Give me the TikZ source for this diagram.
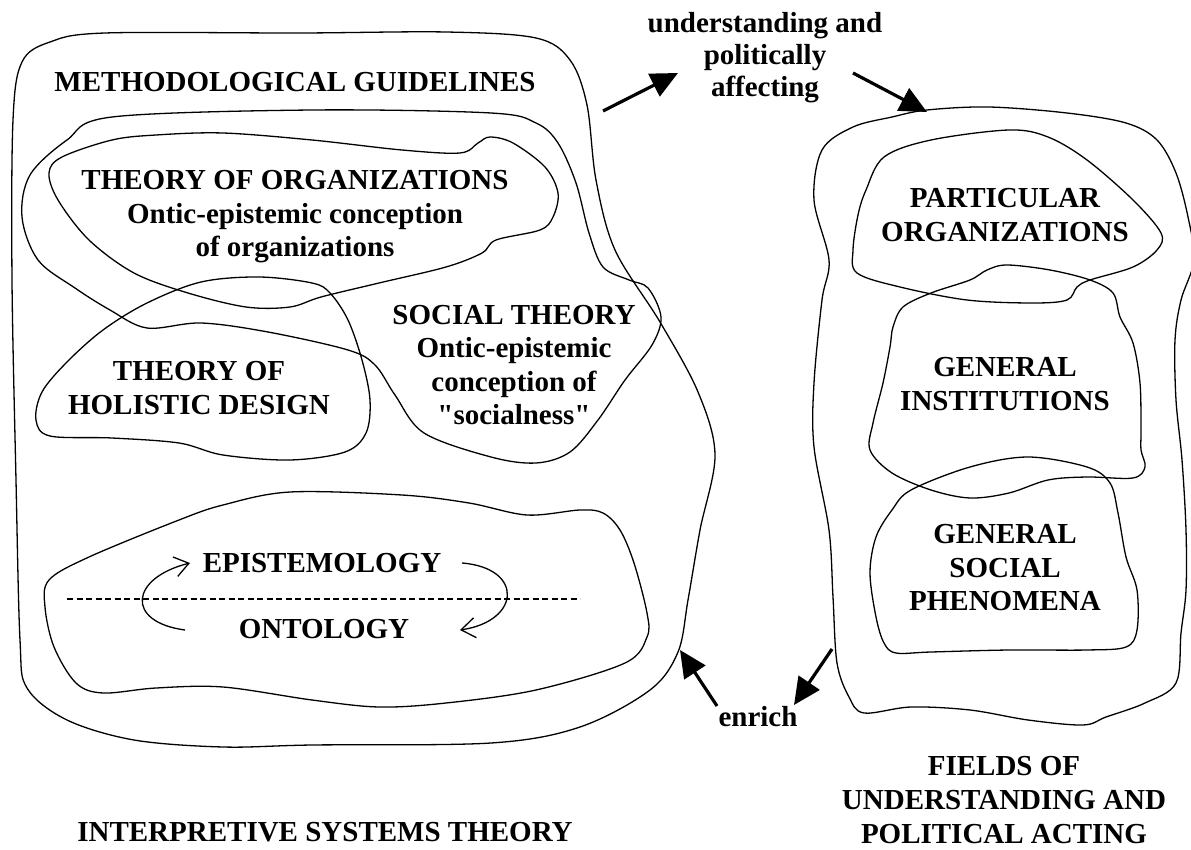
\documentclass[tikz,border=0pt]{standalone}
\usepackage{fontspec}
\setmainfont{Liberation Serif}
% same face without TeX ligatures, for straight double quotes
\newfontfamily\straightquotes{Liberation Serif}[Ligatures=TeXOff]
\usetikzlibrary{arrows.meta}
\begin{document}
\begin{tikzpicture}[x=1pt,y=-1pt,
  blobline/.style={draw=black,line width=1.3pt},
  lbl/.style={font=\fontsize{29}{33.5}\selectfont\bfseries,align=center,inner sep=0pt},
  bigarrow/.style={line width=3.2pt,-{Triangle[length=27pt,width=25pt]}},
  cyclearrow/.style={line width=1.3pt,-{Straight Barb[length=14pt,width=20pt,line width=1.3pt]}},
  divider/.style={line width=1.3pt,dash pattern=on 6pt off 3.5pt}]
\useasboundingbox (0,0) rectangle (1191,850);

% ---------- interpretive systems theory (left) ----------
\draw[blobline] plot[smooth cycle,tension=0.55] coordinates {
  (105,33) (300,33) (446,32) (536,38) (570,60) (587,105) (596,180) (615,250)
  (660,322) (698,392) (715,455) (700,530) (688,600) (678,652) (650,690)
  (580,727) (491,743) (312,745) (223,747) (134,740) (67,720) (27,688)
  (20,640) (16,480) (12,280) (13,120) (22,62) (50,42)};

% methodological guidelines region
\draw[blobline] plot[smooth cycle,tension=0.55] coordinates {
  (112,117) (312,110) (491,113) (536,123) (558,143) (576,183) (589,233)
  (603,267) (629,280) (648,288) (661,317) (652,345) (625,380) (598,420)
  (570,452) (536,463) (491,457) (424,433) (395,395) (375,365) (348,350)
  (268,332) (201,323) (147,328) (110,310) (75,288) (38,260) (22,217)
  (30,175) (67,140)};

% theory of organizations
\draw[blobline] plot[smooth cycle,tension=0.55] coordinates {
  (62,157) (112,140) (156,135) (223,133) (312,140) (402,150) (460,153)
  (478,143) (490,137) (513,143) (545,167) (558,193) (553,217) (540,230)
  (496,240) (482,253) (446,267) (379,283) (321,297) (290,307) (246,307)
  (188,293) (134,273) (89,240) (58,200) (49,173)};

% theory of holistic design
\draw[blobline] plot[smooth cycle,tension=0.55] coordinates {
  (201,282) (259,277) (312,283) (330,293) (348,320) (362,360) (370,400)
  (366,433) (345,452) (290,460) (223,455) (179,443) (112,438) (50,436)
  (36,420) (42,392) (67,362) (103,330) (147,303)};

% epistemology / ontology
\draw[blobline] plot[smooth cycle,tension=0.55] coordinates {
  (223,505) (290,492) (402,495) (469,503) (527,515) (580,510) (603,513)
  (620,530) (634,563) (647,613) (647,637) (625,663) (536,690) (446,703)
  (379,707) (312,700) (223,687) (156,688) (103,693) (76,683) (54,647)
  (45,607) (49,580) (89,557) (179,520)};

% ---------- fields of understanding and political acting (right) ----------
\draw[blobline] plot[smooth cycle,tension=0.55] coordinates {
  (927,110) (989,107) (1067,113) (1126,123) (1157,140) (1176,173) (1188,217)
  (1194,260) (1181,300) (1175,340) (1176,400) (1182,460) (1186,530)
  (1186,590) (1181,633) (1176,683) (1145,703) (1106,717) (1083,725)
  (1028,720) (970,710) (911,707) (864,713) (849,697) (837,663) (833,597)
  (829,530) (814,447) (814,383) (822,300) (829,260) (814,200) (822,150)
  (853,127) (892,117)};

% particular organizations
\draw[blobline] plot[smooth cycle,tension=0.55] coordinates {
  (884,157) (931,140) (1009,130) (1048,137) (1087,160) (1133,200) (1161,233)
  (1157,250) (1133,267) (1090,280) (1077,287) (1067,300) (1033,303)
  (967,300) (900,287) (857,273) (853,250) (858,215) (866,190)};

% general institutions
\draw[blobline] plot[smooth cycle,tension=0.55] coordinates {
  (903,307) (931,293) (970,280) (987,270) (1007,265) (1050,270) (1090,280)
  (1113,293) (1120,317) (1133,343) (1140,383) (1141,430) (1141,450)
  (1145,467) (1133,478) (1087,477) (1048,480) (1009,493) (970,498)
  (931,490) (892,473) (870,450) (873,423) (883,383) (890,347) (893,327)};

% general social phenomena
\draw[blobline] plot[smooth cycle,tension=0.55] coordinates {
  (911,490) (970,467) (1028,457) (1087,467) (1110,483) (1118,513)
  (1126,557) (1137,590) (1137,630) (1126,647) (1087,650) (1009,650)
  (931,652) (896,653) (884,643) (876,617) (870,573) (876,537) (892,510)};

% ---------- labels ----------
\node[lbl] (meth) at (295,82) {METHODOLOGICAL GUIDELINES};
\node[lbl] (org) at (295,217) {THEORY OF ORGANIZATIONS\\Ontic-epistemic conception\\of organizations};
\node[lbl] (soc) at (514,365) {SOCIAL THEORY\\Ontic-epistemic\\conception of\\{\straightquotes"socialness"}};
\node[lbl] (hol) at (199,388) {THEORY OF\\HOLISTIC DESIGN};
\node[lbl] (epi) at (322,563) {EPISTEMOLOGY};
\node[lbl] (ont) at (324,629) {ONTOLOGY};
\node[lbl] (ist) at (325,832) {INTERPRETIVE SYSTEMS THEORY};

\node[lbl,font=\fontsize{29}{32}\selectfont\bfseries] (aff) at (765,58) {understanding and\\politically\\affecting};
\node[lbl] (enr) at (758,717) {enrich};

\node[lbl] (par) at (1005,215) {PARTICULAR\\ORGANIZATIONS};
\node[lbl] (gin) at (1005,384) {GENERAL\\INSTITUTIONS};
\node[lbl] (gsp) at (1005,568) {GENERAL\\SOCIAL\\PHENOMENA};
\node[lbl,font=\fontsize{29}{34}\selectfont\bfseries] (fld) at (1004,800) {FIELDS OF\\UNDERSTANDING AND\\POLITICAL ACTING};

% ---------- divider and cycle between epistemology and ontology ----------
\coordinate (dvl) at (67,599);
\coordinate (dvr) at (580,599);
\draw[divider] (dvl) -- (dvr);

\coordinate (lcs) at (185,630);
\coordinate (lce) at (190,563);
\coordinate (rcs) at (462,563);
\coordinate (rce) at (460,630);
\draw[cyclearrow] (lcs) .. controls (125,622) and (130,578) .. (lce);
\draw[cyclearrow] (rcs) .. controls (524,568) and (521,621) .. (rce);

% ---------- arrows between the two fields ----------
\coordinate (a1s) at (603,111);
\coordinate (a1e) at (678,73);
\coordinate (a2s) at (853,73);
\coordinate (a2e) at (927,112);
\coordinate (e1s) at (717,706);
\coordinate (e1e) at (680,650);
\coordinate (e2s) at (832,649);
\coordinate (e2e) at (794,705);
\draw[bigarrow] (a1s) -- (a1e);
\draw[bigarrow] (a2s) -- (a2e);
\draw[bigarrow] (e1s) -- (e1e);
\draw[bigarrow] (e2s) -- (e2e);
\end{tikzpicture}
\end{document}
